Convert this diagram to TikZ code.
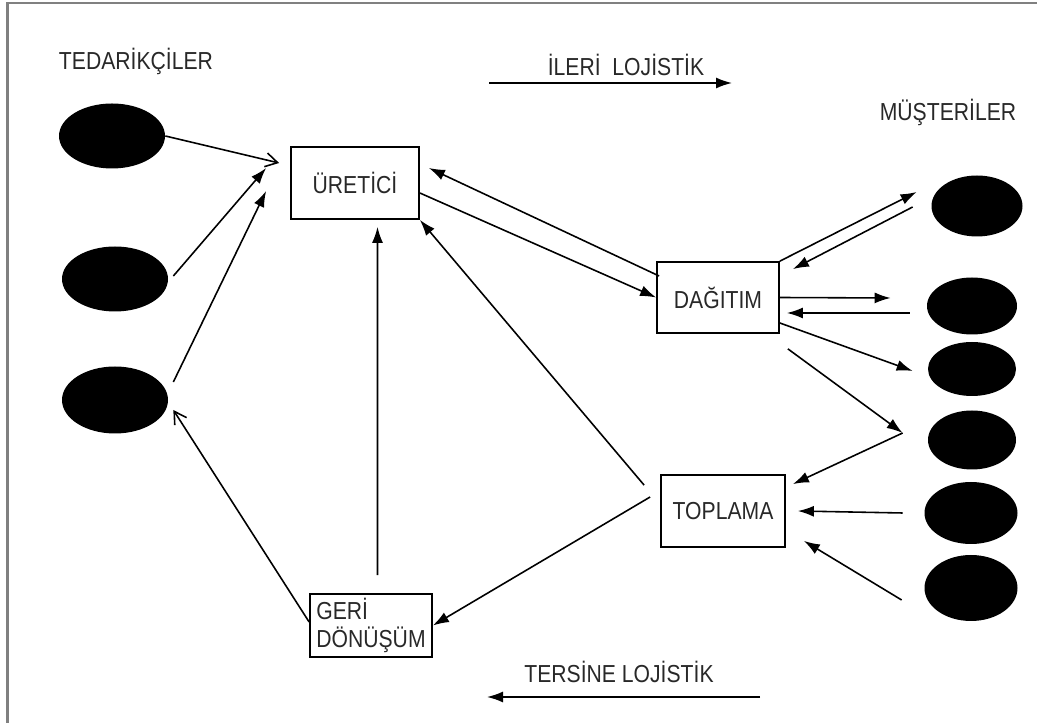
\documentclass[tikz,border=0pt]{standalone}
\usepackage{fontspec}
\setmainfont{Liberation Sans}
\newfontfamily\diagfont[FakeStretch=0.86]{Liberation Sans}
\usetikzlibrary{arrows.meta,positioning,calc,shapes.geometric}
\definecolor{framegray}{RGB}{128,128,128}
\definecolor{inkgray}{RGB}{40,40,40}

\begin{document}
\begin{tikzpicture}[box/.style={draw, line width=1pt, minimum width=2.5cm, minimum height=1.44cm, text=inkgray, font=\diagfont\fontsize{14}{16}\selectfont}, blob/.style={ellipse, fill=black, minimum width=2.12cm, minimum height=1.3cm, inner sep=0pt}, lbl/.style={text=inkgray, font=\diagfont\fontsize{14}{16}\selectfont}, flow/.style={line width=0.9pt, -{Latex[length=3.2mm,width=2.2mm]}}, flowo/.style={line width=0.9pt, -{Straight Barb[length=2.4mm,width=2.8mm]}}]
\useasboundingbox (0,0) rectangle (20.74,14.46);
\draw[framegray, line width=1.2pt] (0.15,0) |- (20.74,14.40);
\node[blob] (s1) at (2.24,11.74) {};
\node[blob] (s2) at (2.30,8.88) {};
\node[blob, minimum height=1.34cm] (s3) at (2.30,6.46) {};
\node[blob, minimum width=1.82cm, minimum height=1.22cm] (c1) at (19.54,10.34) {};
\node[blob, minimum width=1.80cm, minimum height=1.14cm] (c2) at (19.44,8.34) {};
\node[blob, minimum width=1.76cm, minimum height=1.08cm] (c3) at (19.44,7.08) {};
\node[blob, minimum width=1.76cm, minimum height=1.18cm] (c4) at (19.44,5.66) {};
\node[blob, minimum width=1.86cm, minimum height=1.24cm] (c5) at (19.42,4.20) {};
\node[blob, minimum width=1.86cm, minimum height=1.32cm] (c6) at (19.42,2.70) {};
\node[box, minimum width=2.56cm] (ure) at (7.10,10.80) {ÜRETİCİ};
\node[box, minimum width=2.44cm, minimum height=1.42cm] (dag) at (14.36,8.51) {DAĞITIM};
\node[box, minimum width=2.48cm] (top) at (14.46,4.24) {TOPLAMA};
\node[box, minimum width=2.44cm, minimum height=1.26cm, align=left, inner sep=0.6mm] (geri) at (7.42,1.95) {GERİ\\DÖNÜŞÜM};
\node[lbl] (tedarik) at (2.72,13.24) {TEDARİKÇİLER};
\node[lbl] (musteri) at (18.96,12.22) {MÜŞTERİLER};
\node[lbl] (ileri) at (12.52,13.16) {İLERİ\ \ LOJİSTİK};
\node[lbl] (tersine) at (12.38,1.02) {TERSİNE LOJİSTİK};
\coordinate (fwdA) at (9.78,12.80);
\coordinate (fwdB) at (14.64,12.80);
\coordinate (revA) at (15.20,0.52);
\coordinate (revB) at (9.74,0.52);
\coordinate (c4in) at ([xshift=-0.5cm,yshift=0.14cm]c4.west);
\draw[flowo] (s1.east) -- ([xshift=-0.22cm,yshift=0.40cm]ure.west);
\draw[flow] ([xshift=0.1cm,yshift=0.06cm]s2.east) -- ([xshift=-0.48cm,yshift=0.30cm]ure.west);
\draw[flow] ([xshift=0.1cm,yshift=0.36cm]s3.east) -- ([xshift=-0.48cm,yshift=-0.16cm]ure.west);
\draw[flow] ([yshift=-0.2cm]ure.east) -- (dag.west);
\draw[flow] ([xshift=0.06cm,yshift=0.43cm]dag.west) -- ([xshift=0.18cm,yshift=0.30cm]ure.east);
\draw[flow] (dag.north east) -- ([xshift=-0.29cm,yshift=0.28cm]c1.west);
\draw[flow] ([xshift=-0.37cm,yshift=-0.02cm]c1.west) -- ([xshift=0.26cm,yshift=-0.16cm]dag.north east);
\draw[flow] (dag.east) -- ([xshift=-0.72cm,yshift=0.16cm]c2.west);
\draw[flow] ([xshift=-0.34cm,yshift=-0.14cm]c2.west) -- ([xshift=0.14cm,yshift=-0.31cm]dag.east);
\draw[flow] ([yshift=-0.51cm]dag.east) -- ([xshift=-0.30cm,yshift=-0.04cm]c3.west);
\draw[flow] ([xshift=0.16cm,yshift=-0.30cm]dag.south east) -- (c4in);
\draw[flow] (c4in) -- ([xshift=0.14cm,yshift=-0.20cm]top.north east);
\draw[flow] ([xshift=-0.43cm]c5.west) -- ([xshift=0.24cm]top.east);
\draw[flow] ([xshift=-0.45cm,yshift=-0.24cm]c6.west) -- ([xshift=0.36cm,yshift=0.14cm]top.south east);
\draw[flow] ([xshift=-0.32cm,yshift=-0.22cm]top.north west) -- (ure.south east);
\draw[flow] ([xshift=-0.2cm,yshift=0.28cm]top.west) -- (geri.east);
\draw[flow] ([xshift=0.13cm,yshift=0.36cm]geri.north) -- ([xshift=0.45cm,yshift=-0.14cm]ure.south);
\draw[flowo] ([yshift=0.07cm]geri.west) -- ([xshift=0.1cm,yshift=-0.2cm]s3.east);
\draw[flow] (fwdA) -- (fwdB);
\draw[flow] (revA) -- (revB);
\end{tikzpicture}
\end{document}
